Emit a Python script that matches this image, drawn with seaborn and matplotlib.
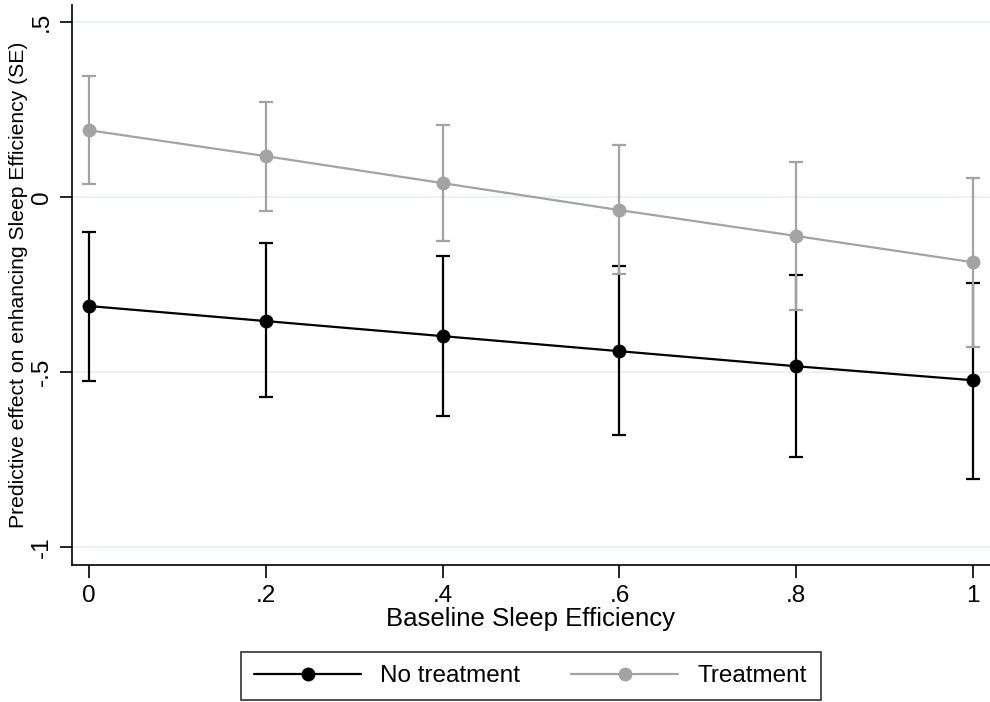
import matplotlib
matplotlib.use("Agg")
import matplotlib.pyplot as plt
import seaborn as sns
import pandas as pd

# baseline sleep efficiency values
baseline = [0, 0.2, 0.4, 0.6, 0.8, 1.0]

# predictive effect, no treatment
no_treat = [-0.311, -0.354, -0.397, -0.440, -0.483, -0.523]
no_treat_lo = [-0.526, -0.571, -0.626, -0.680, -0.743, -0.806]
no_treat_hi = [-0.100, -0.131, -0.169, -0.197, -0.223, -0.246]

# predictive effect, treatment
treat = [0.191, 0.117, 0.040, -0.037, -0.111, -0.186]
treat_lo = [0.037, -0.040, -0.126, -0.220, -0.323, -0.429]
treat_hi = [0.346, 0.271, 0.206, 0.149, 0.100, 0.054]

groups = ["No treatment", "Treatment"]
colors = {"No treatment": "#000000", "Treatment": "#a3a3a3"}

df = pd.DataFrame({
    "x": baseline * 2,
    "y": no_treat + treat,
    "group": [groups[0]] * 6 + [groups[1]] * 6,
})

sns.set_style("white")
plt.rcParams["font.family"] = ["Liberation Sans", "DejaVu Sans"]
plt.rcParams["text.color"] = "black"
plt.rcParams["axes.labelcolor"] = "black"
plt.rcParams["xtick.color"] = "black"
plt.rcParams["ytick.color"] = "black"

fig = plt.figure(figsize=(9.9, 7.02), dpi=100)
ax = fig.add_axes([0.0727, 0.195, 0.9273, 0.798])

# grid lines
for yv in [-1, -0.5, 0, 0.5]:
    ax.axhline(yv, color="#eaf2f3", lw=1.5, zorder=0)

# error bars
for name, lo, hi, mid in [(groups[0], no_treat_lo, no_treat_hi, no_treat),
                          (groups[1], treat_lo, treat_hi, treat)]:
    err = [[m - l for m, l in zip(mid, lo)], [h - m for m, h in zip(mid, hi)]]
    ax.errorbar(baseline, mid, yerr=err, fmt="none", ecolor=colors[name],
                elinewidth=1.6, capsize=5, capthick=1.6, zorder=2)

sns.lineplot(data=df, x="x", y="y", hue="group", palette=colors,
             marker="o", markersize=10, markeredgewidth=0, linewidth=1.6,
             ax=ax, zorder=3)

ax.set_xlim(-0.0193, 1.0193)
ax.set_ylim(-1.051, 0.549)
ax.set_xticks(baseline)
ax.set_xticklabels(["0", ".2", ".4", ".6", ".8", "1"])
ax.set_yticks([-1, -0.5, 0, 0.5])
ax.set_yticklabels(["-1", "-.5", "0", ".5"], rotation=90, va="center")
ax.tick_params(axis="both", direction="out", length=9, width=1.2,
               labelsize=17.5, color="black", labelcolor="black", pad=5)
ax.tick_params(axis="x", bottom=True)
ax.tick_params(axis="y", left=True)

for s in ["top", "right"]:
    ax.spines[s].set_visible(False)
for s in ["left", "bottom"]:
    ax.spines[s].set_color("black")
    ax.spines[s].set_linewidth(1.2)

ax.set_xlabel("Baseline Sleep Efficiency", fontsize=18.5, labelpad=0,
              color="black")
ax.set_ylabel("Predictive effect on enhancing Sleep Efficiency (SE)",
              fontsize=15.2, labelpad=2, color="black")

ax.get_legend().remove()
handles, labels = ax.get_legend_handles_labels()
leg = fig.legend(handles, labels, loc="center", bbox_to_anchor=(0.536, 0.037),
                 ncol=2, fontsize=17.5, frameon=True, fancybox=False,
                 edgecolor="black", handlelength=4.4, columnspacing=2.1,
                 borderpad=0.55, handletextpad=0.8)
leg.get_frame().set_linewidth(1.2)
for t in leg.get_texts():
    t.set_color("black")

fig.savefig("out.png", dpi=100)
